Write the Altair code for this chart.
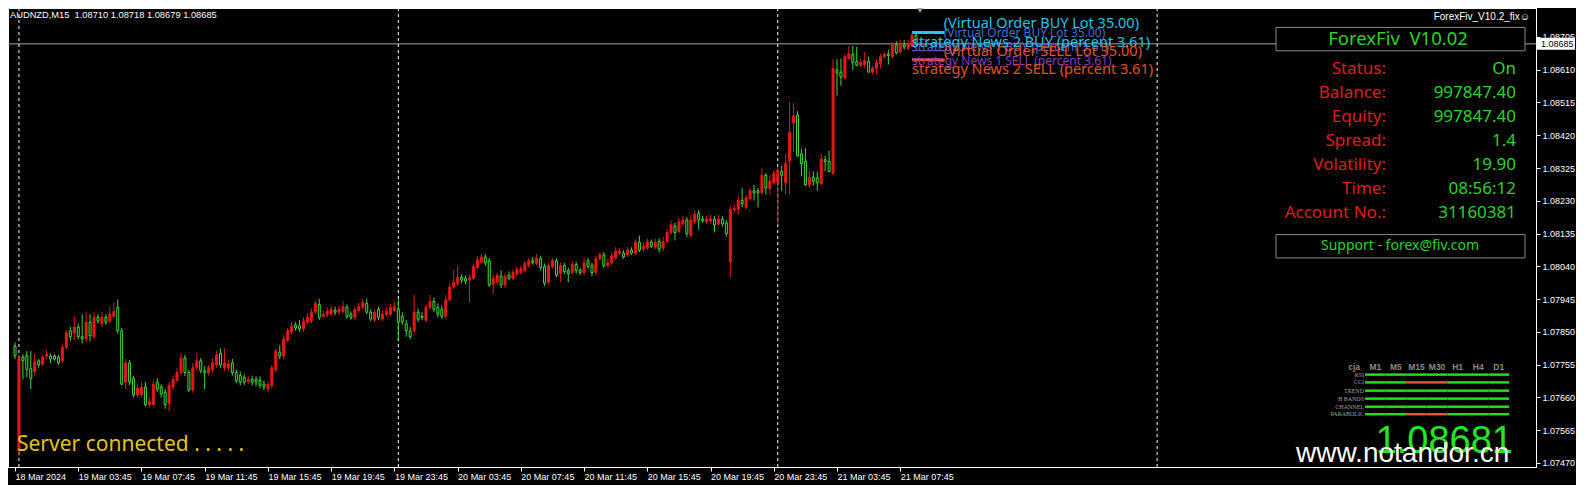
import altair as alt
import pandas as pd

# ---------------- data ----------------
opens = [1.07809,1.07506,1.07777,1.07781,1.07743,1.07735,1.07766,1.07757,1.07780,1.07780,
 1.07780,1.07777,1.07766,1.07805,1.07853,1.07847,1.07864,1.07836,1.07830,1.07878,
 1.07836,1.07892,1.07873,1.07892,1.07881,1.07895,1.07921,1.07853,1.07704,1.07760,
 1.07715,1.07667,1.07667,1.07690,1.07639,1.07639,1.07704,1.07690,1.07675,1.07642,
 1.07690,1.07709,1.07732,1.07774,1.07732,1.07681,1.07746,1.07766,1.07737,1.07732,
 1.07740,1.07754,1.07788,1.07746,1.07746,1.07760,1.07732,1.07723,1.07718,1.07706,
 1.07712,1.07712,1.07709,1.07698,1.07684,1.07695,1.07740,1.07791,1.07780,1.07825,
 1.07850,1.07870,1.07867,1.07859,1.07878,1.07881,1.07907,1.07929,1.07895,1.07901,
 1.07901,1.07912,1.07907,1.07909,1.07921,1.07901,1.07892,1.07912,1.07921,1.07932,
 1.07907,1.07884,1.07915,1.07887,1.07901,1.07901,1.07912,1.07915,1.07895,1.07873,
 1.07853,1.07853,1.07907,1.07895,1.07884,1.07921,1.07938,1.07921,1.07915,1.07895,
 1.07943,1.07980,1.07991,1.08008,1.08005,1.08002,1.08005,1.08036,1.08053,1.08067,
 1.08056,1.07988,1.07994,1.08011,1.07986,1.08014,1.08005,1.08017,1.08022,1.08028,
 1.08042,1.08056,1.08048,1.08062,1.08039,1.07994,1.08039,1.08056,1.08019,1.08042,
 1.08028,1.08022,1.08045,1.08028,1.08022,1.08056,1.08042,1.08022,1.08062,1.08073,
 1.08042,1.08050,1.08064,1.08078,1.08078,1.08073,1.08087,1.08078,1.08110,1.08090,
 1.08093,1.08110,1.08095,1.08112,1.08093,1.08112,1.08138,1.08157,1.08141,1.08163,
 1.08174,1.08129,1.08169,1.08194,1.08177,1.08169,1.08172,1.08177,1.08163,1.08177,
 1.08166,1.08053,1.08203,1.08205,1.08231,1.08211,1.08236,1.08259,1.08259,1.08253,
 1.08304,1.08265,1.08282,1.08282,1.08315,1.08282,1.08346,1.08456,1.08479,1.08366,
 1.08344,1.08276,1.08298,1.08296,1.08279,1.08349,1.08344,1.08310,1.08609,1.08603,
 1.08586,1.08642,1.08654,1.08634,1.08623,1.08625,1.08634,1.08603,1.08614,1.08628,
 1.08648,1.08656,1.08648,1.08682,1.08662,1.08682,1.08671,1.08679,1.08710]
highs = [1.07819,1.07783,1.07785,1.07794,1.07794,1.07788,1.07771,1.07783,1.07797,1.07788,
 1.07785,1.07783,1.07813,1.07856,1.07864,1.07895,1.07873,1.07901,1.07907,1.07901,
 1.07907,1.07901,1.07907,1.07901,1.07923,1.07935,1.07943,1.07861,1.07771,1.07768,
 1.07723,1.07698,1.07704,1.07704,1.07661,1.07709,1.07715,1.07698,1.07684,1.07704,
 1.07723,1.07746,1.07788,1.07783,1.07740,1.07760,1.07788,1.07774,1.07751,1.07754,
 1.07774,1.07794,1.07802,1.07802,1.07768,1.07771,1.07740,1.07735,1.07726,1.07721,
 1.07723,1.07721,1.07721,1.07709,1.07706,1.07754,1.07802,1.07811,1.07839,1.07861,
 1.07878,1.07878,1.07884,1.07892,1.07904,1.07918,1.07940,1.07946,1.07912,1.07921,
 1.07926,1.07923,1.07926,1.07940,1.07929,1.07909,1.07923,1.07935,1.07946,1.07946,
 1.07915,1.07915,1.07923,1.07912,1.07921,1.07932,1.07938,1.07943,1.07907,1.07884,
 1.07864,1.07957,1.07918,1.07907,1.07929,1.07957,1.07949,1.07932,1.07926,1.07957,
 1.07991,1.08028,1.08042,1.08017,1.08014,1.08017,1.08048,1.08070,1.08076,1.08076,
 1.08064,1.08017,1.08022,1.08028,1.08019,1.08025,1.08031,1.08039,1.08042,1.08056,
 1.08064,1.08067,1.08076,1.08070,1.08048,1.08050,1.08064,1.08064,1.08050,1.08050,
 1.08036,1.08056,1.08053,1.08036,1.08064,1.08064,1.08050,1.08070,1.08081,1.08081,
 1.08062,1.08081,1.08095,1.08093,1.08087,1.08095,1.08095,1.08118,1.08129,1.08110,
 1.08121,1.08118,1.08121,1.08121,1.08126,1.08149,1.08172,1.08166,1.08180,1.08186,
 1.08183,1.08189,1.08203,1.08203,1.08186,1.08186,1.08189,1.08186,1.08189,1.08186,
 1.08174,1.08214,1.08219,1.08245,1.08267,1.08248,1.08267,1.08276,1.08267,1.08324,
 1.08310,1.08304,1.08318,1.08329,1.08332,1.08366,1.08516,1.08513,1.08490,1.08380,
 1.08383,1.08318,1.08315,1.08315,1.08366,1.08360,1.08375,1.08640,1.08640,1.08642,
 1.08654,1.08679,1.08679,1.08676,1.08642,1.08662,1.08648,1.08620,1.08642,1.08656,
 1.08662,1.08668,1.08690,1.08693,1.08696,1.08696,1.08696,1.08718,1.08718]
lows = [1.07771,1.07492,1.07712,1.07718,1.07684,1.07723,1.07746,1.07751,1.07771,1.07760,
 1.07766,1.07754,1.07760,1.07799,1.07825,1.07825,1.07828,1.07816,1.07822,1.07822,
 1.07828,1.07873,1.07864,1.07870,1.07873,1.07890,1.07845,1.07695,1.07684,1.07695,
 1.07659,1.07659,1.07661,1.07633,1.07630,1.07633,1.07675,1.07659,1.07627,1.07619,
 1.07681,1.07704,1.07723,1.07721,1.07675,1.07673,1.07737,1.07729,1.07684,1.07723,
 1.07732,1.07746,1.07746,1.07737,1.07737,1.07723,1.07701,1.07695,1.07695,1.07698,
 1.07695,1.07692,1.07687,1.07681,1.07675,1.07687,1.07732,1.07771,1.07771,1.07819,
 1.07842,1.07853,1.07850,1.07850,1.07873,1.07875,1.07901,1.07884,1.07890,1.07892,
 1.07895,1.07898,1.07898,1.07904,1.07887,1.07884,1.07884,1.07907,1.07915,1.07901,
 1.07881,1.07878,1.07884,1.07881,1.07895,1.07895,1.07907,1.07825,1.07870,1.07836,
 1.07828,1.07845,1.07878,1.07884,1.07878,1.07915,1.07907,1.07892,1.07887,1.07887,
 1.07938,1.07974,1.07983,1.07991,1.07988,1.07935,1.08000,1.08031,1.08048,1.08042,
 1.07980,1.07960,1.07986,1.07977,1.07977,1.08000,1.08000,1.08011,1.08017,1.08022,
 1.08036,1.08045,1.08042,1.08028,1.07983,1.07988,1.08033,1.08008,1.07994,1.08017,
 1.07994,1.08017,1.08019,1.08014,1.08014,1.08033,1.08011,1.08014,1.08056,1.08036,
 1.08036,1.08042,1.08059,1.08073,1.08062,1.08067,1.08073,1.08073,1.08081,1.08081,
 1.08087,1.08093,1.08090,1.08081,1.08084,1.08107,1.08132,1.08115,1.08135,1.08157,
 1.08126,1.08124,1.08163,1.08146,1.08166,1.08163,1.08166,1.08138,1.08157,1.08155,
 1.08126,1.08008,1.08197,1.08189,1.08211,1.08205,1.08231,1.08231,1.08211,1.08248,
 1.08248,1.08248,1.08276,1.08160,1.08259,1.08248,1.08248,1.08372,1.08358,1.08301,
 1.08273,1.08267,1.08273,1.08259,1.08276,1.08315,1.08315,1.08304,1.08535,1.08563,
 1.08583,1.08640,1.08609,1.08620,1.08617,1.08614,1.08603,1.08597,1.08597,1.08614,
 1.08642,1.08625,1.08642,1.08654,1.08656,1.08668,1.08668,1.08676,1.08679]
closes = [1.07781,1.07774,1.07766,1.07741,1.07715,1.07763,1.07754,1.07777,1.07785,1.07771,
 1.07771,1.07760,1.07805,1.07847,1.07836,1.07864,1.07836,1.07830,1.07878,1.07839,
 1.07892,1.07881,1.07892,1.07878,1.07901,1.07909,1.07853,1.07698,1.07760,1.07704,
 1.07667,1.07687,1.07690,1.07639,1.07647,1.07698,1.07684,1.07670,1.07639,1.07695,
 1.07712,1.07732,1.07774,1.07732,1.07681,1.07746,1.07766,1.07737,1.07732,1.07746,
 1.07760,1.07783,1.07754,1.07760,1.07757,1.07732,1.07709,1.07704,1.07704,1.07712,
 1.07704,1.07704,1.07695,1.07690,1.07698,1.07746,1.07794,1.07780,1.07830,1.07853,
 1.07867,1.07861,1.07859,1.07881,1.07892,1.07907,1.07932,1.07892,1.07901,1.07909,
 1.07915,1.07907,1.07915,1.07923,1.07895,1.07892,1.07915,1.07923,1.07935,1.07907,
 1.07887,1.07907,1.07892,1.07901,1.07909,1.07921,1.07923,1.07878,1.07878,1.07853,
 1.07836,1.07907,1.07887,1.07892,1.07921,1.07938,1.07915,1.07901,1.07895,1.07943,
 1.07980,1.07994,1.08008,1.08000,1.07997,1.08008,1.08039,1.08059,1.08067,1.08050,
 1.07986,1.08005,1.08014,1.07986,1.08011,1.08005,1.08022,1.08031,1.08033,1.08048,
 1.08056,1.08050,1.08064,1.08036,1.07991,1.08042,1.08056,1.08014,1.08042,1.08025,
 1.08019,1.08045,1.08028,1.08022,1.08050,1.08039,1.08022,1.08062,1.08073,1.08042,
 1.08050,1.08070,1.08084,1.08084,1.08067,1.08087,1.08078,1.08110,1.08087,1.08098,
 1.08112,1.08098,1.08110,1.08090,1.08112,1.08138,1.08160,1.08138,1.08169,1.08174,
 1.08135,1.08174,1.08191,1.08174,1.08172,1.08177,1.08177,1.08160,1.08177,1.08163,
 1.08135,1.08205,1.08208,1.08231,1.08222,1.08239,1.08259,1.08253,1.08253,1.08304,
 1.08267,1.08287,1.08310,1.08318,1.08304,1.08338,1.08428,1.08476,1.08360,1.08338,
 1.08276,1.08298,1.08287,1.08282,1.08352,1.08344,1.08315,1.08614,1.08600,1.08589,
 1.08648,1.08656,1.08631,1.08623,1.08631,1.08637,1.08603,1.08614,1.08631,1.08648,
 1.08654,1.08651,1.08682,1.08659,1.08685,1.08676,1.08685,1.08710,1.08685]

x_tick_bars = [0, 16, 32, 48, 64, 80, 96, 112, 128, 144, 160, 176, 192, 208, 224]
x_tick_labels = ['18 Mar 2024', '19 Mar 03:45', '19 Mar 07:45', '19 Mar 11:45', '19 Mar 15:45',
                 '19 Mar 19:45', '19 Mar 23:45', '20 Mar 03:45', '20 Mar 07:45', '20 Mar 11:45',
                 '20 Mar 15:45', '20 Mar 19:45', '20 Mar 23:45', '21 Mar 03:45', '21 Mar 07:45']
y_ticks = [1.07470, 1.07565, 1.07660, 1.07755, 1.07850, 1.07945, 1.08040, 1.08135,
           1.08230, 1.08325, 1.08420, 1.08515, 1.08610, 1.08705]
separator_bars = [1, 97, 193, 289]
shift_marker_bar = [229]
current_price = 1.08685
header_text = 'AUDNZD,M15\u00a0\u00a01.08710 1.08718 1.08679 1.08685'
ea_name = 'ForexFiv_V10.2_fix\u263a'
panel_title = 'ForexFiv\u00a0\u00a0V10.02'
panel_labels = ['Status:', 'Balance:', 'Equity:', 'Spread:', 'Volatility:', 'Time:', 'Account No.:']
panel_values = ['On', '997847.40', '997847.40', '1.4', '19.90', '08:56:12', '31160381']
support_text = 'Support - forex@fiv.com'
big_price = '1.08681'
site_text = 'www.notandor.cn'
status_text = 'Server connected . . . . .'
ind_rows = ['RSI', 'CCI', 'TREND', 'B BANDS', 'CHANNEL', 'PARABOLIC']
ind_tfs = ['M1', 'M5', 'M15', 'M30', 'H1', 'H4', 'D1']
ind_status = [[1, 1, 1, 1, 1, 1, 1],
              [1, 1, 0, 0, 1, 1, 1],
              [1, 1, 1, 1, 1, 1, 1],
              [1, 1, 1, 1, 1, 1, 1],
              [1, 1, 1, 1, 1, 1, 1],
              [1, 1, 0, 0, 1, 1, 1]]
strategy_texts = ['(Virtual Order BUY Lot 35.00)', '(Virtual Order BUY Lot 35.00)',
                  'strategy News 1 BUY (percent 3.61)', 'strategy News 2 BUY (percent 3.61)',
                  'strategy News 1 SELL (percent 3.61)', '(Virtual Order SELL Lot 35.00)',
                  'strategy News 2 SELL (percent 3.61)']
strategy_bars = [235, 235, 227, 227, 227, 235, 227]
strategy_prices = [1.08742, 1.08717, 1.08676, 1.08688, 1.08635, 1.08662, 1.08608]
strategy_kind = ['buy_big', 'buy_small', 'buy1_small', 'buy_big', 'sell1_small', 'sell_big', 'sell_big']
level_prices = [1.08718, 1.08665, 1.08639]
level_kind = ['buy_big', 'buy1_small', 'sell_big']
level_bars = [227, 235.25]

# ---------------- styling ----------------
W, H = 1528, 459
YTOP, YBOT = 1.08789, 1.07458
PXB = 907.0 / 228.0          # pixels per bar
B0 = -2.0 / PXB              # domain start so that bar 0 sits 2px inside the frame
RED = '#e81818'
GREEN = '#3cdc3c'
TXT_RED = '#e01c1c'
TXT_GREEN = '#2ad42a'
FONT = 'Noto Sans'
KIND_COL = {'buy_big': '#22c6e6', 'buy_small': '#3a72d8', 'buy1_small': '#6a5ad8',
            'sell1_small': '#8a3cc8', 'sell_big': '#e8501c'}

def bar_of(px):
    return px / PXB + B0

def price_of(py):
    return YTOP - py / H * (YTOP - YBOT)

def ly(ref_y):
    return (ref_y - 5) * H / 472.0

x_scale = alt.Scale(domain=[B0, B0 + W / PXB], nice=False, zero=False)
y_scale = alt.Scale(domain=[YBOT, YTOP], nice=False, zero=False)

label_arr = '[' + ','.join("'%s'" % s for s in x_tick_labels) + ']'
xaxis = alt.Axis(values=x_tick_bars, labelExpr=label_arr + '[round(datum.value/16)]',
                 title=None, orient='bottom', labelAlign='left', labelBaseline='top',
                 labelColor='white', labelFontSize=9, labelFont='Liberation Sans',
                 tickColor='white', tickSize=4, domainColor='white', labelPadding=1,
                 labelOffset=0, labelFlush=False, labelOverlap=False, grid=False)
yaxis = alt.Axis(values=y_ticks, format='.5f', orient='right', title=None,
                 labelColor='white', labelFontSize=9, labelFont='Liberation Sans',
                 tickColor='white', tickSize=4, domainColor='white', labelPadding=2,
                 labelOverlap=False, labelFlush=False, grid=False)

X = lambda f: alt.X(f, scale=x_scale, axis=xaxis)
Y = lambda f: alt.Y(f, scale=y_scale, axis=yaxis)

df = pd.DataFrame({'i': list(range(len(opens))), 'open': opens, 'high': highs,
                   'low': lows, 'close': closes})
df['col'] = [RED if c >= o else GREEN for o, c in zip(opens, closes)]
df['fil'] = [RED if c >= o else '#000000' for o, c in zip(opens, closes)]

one = pd.DataFrame({'a': [0]})

seps = alt.Chart(pd.DataFrame({'i': separator_bars})).mark_rule(
    color='white', strokeWidth=1, strokeDash=[3, 3]).encode(x=X('i:Q'))
price_line = alt.Chart(one).mark_rule(color='#a8a8a8', strokeWidth=1).encode(
    y=Y('p:Q')).transform_calculate(p=str(current_price))

wicks = alt.Chart(df).mark_rule(strokeWidth=1).encode(
    x=X('i:Q'), y=Y('low:Q'), y2='high:Q',
    color=alt.Color('col:N', scale=None, legend=None))
bodies = alt.Chart(df).mark_bar(size=2, strokeWidth=1).encode(
    x=X('i:Q'), y=Y('open:Q'), y2='close:Q',
    stroke=alt.Stroke('col:N', scale=None, legend=None),
    fill=alt.Fill('fil:N', scale=None, legend=None))

lv = pd.DataFrame({'p': level_prices, 'c': [KIND_COL[k] for k in level_kind],
                   'x0': [level_bars[0]] * 3, 'x1': [level_bars[1]] * 3,
                   'w': [3, 1, 3]})
levels = alt.Chart(lv).mark_rule().encode(
    x=X('x0:Q'), x2='x1:Q', y=Y('p:Q'),
    color=alt.Color('c:N', scale=None, legend=None),
    strokeWidth=alt.StrokeWidth('w:Q', scale=None, legend=None))
st = pd.DataFrame({'t': strategy_texts, 'i': strategy_bars, 'p': strategy_prices,
                   'c': [KIND_COL[k] for k in strategy_kind]})
st['fs'] = [12 if k.endswith('small') else 14.5 for k in strategy_kind]
strat = alt.Chart(st).mark_text(align='left', baseline='middle', font=FONT).encode(
    x=X('i:Q'), y=Y('p:Q'), text='t:N',
    color=alt.Color('c:N', scale=None, legend=None),
    size=alt.Size('fs:Q', scale=None, legend=None))

shift = alt.Chart(pd.DataFrame({'i': shift_marker_bar})).mark_point(
    shape='triangle-down', filled=True, color='#9a9a9a', size=45, opacity=1).encode(
    x=X('i:Q'), y=alt.value(2))

tag = alt.Chart(one).mark_rule(color='white', strokeWidth=12, strokeCap='butt').encode(
    x=alt.value(W + 1), x2=alt.value(W + 39), y=Y('p:Q')).transform_calculate(p=str(current_price))
tag_txt = alt.Chart(one).mark_text(align='left', baseline='middle', color='black', fontSize=9,
                                   font='Liberation Sans').encode(
    x=alt.value(W + 5), y=Y('p:Q'), text=alt.value('%.5f' % current_price)).transform_calculate(
    p=str(current_price))

def label(text, px, py, size, color, align='left', baseline='middle', font=FONT, weight='normal'):
    return alt.Chart(one).mark_text(align=align, baseline=baseline, fontSize=size, color=color,
                                    font=font, fontWeight=weight).encode(
        x=alt.value(px), y=alt.value(py), text=alt.value(text))

header = label(header_text, 2, ly(12.7), 9.3, 'white', font='Liberation Sans')
ea = label(ea_name, 1522, ly(14), 10, 'white', align='right', font='Liberation Sans')
server = label(status_text, 9, ly(461), 21, '#e6c21e', baseline='alphabetic')

def box(x0, x1, y0, y1):
    return alt.Chart(one).mark_rect(fill='black', stroke='#8a8a8a', strokeWidth=1).encode(
        x=alt.value(x0), x2=alt.value(x1), y=alt.value(y0), y2=alt.value(y1))

box1 = box(1268, 1517, ly(25), ly(49))
title = label(panel_title, 1390, ly(37), 18.5, TXT_GREEN, align='center')
box2 = box(1268, 1517, ly(238), ly(262))
support = label(support_text, 1392, ly(250), 14, TXT_GREEN, align='center')

pdf = pd.DataFrame({'label': panel_labels, 'value': panel_values,
                    'p': [price_of(ly(67.7 + 24.75 * k)) for k in range(len(panel_labels))]})
plabels = alt.Chart(pdf).mark_text(align='right', baseline='middle', font=FONT, fontSize=17,
                                   color=TXT_RED).encode(x=alt.value(1378), y=Y('p:Q'), text='label:N')
pvalues = alt.Chart(pdf).mark_text(align='right', baseline='middle', font=FONT, fontSize=17,
                                   color=TXT_GREEN).encode(x=alt.value(1508), y=Y('p:Q'), text='value:N')

row_ref_y = [382, 390, 398.5, 406.7, 415, 422.7]
seg_rows = []
for r, name in enumerate(ind_rows):
    for t, tf in enumerate(ind_tfs):
        x0 = 1361 + 20.7 * t
        seg_rows.append({'row': name, 'tf': tf,
                         'c': '#22dd22' if ind_status[r][t] else '#e85040',
                         'x0': bar_of(x0), 'x1': bar_of(x0 + 20.7),
                         'p': price_of(ly(row_ref_y[r]))})
segs = alt.Chart(pd.DataFrame(seg_rows)).mark_rule(strokeWidth=2.5).encode(
    x=X('x0:Q'), x2='x1:Q', y=Y('p:Q'), color=alt.Color('c:N', scale=None, legend=None))
rl = pd.DataFrame({'t': ind_rows, 'p': [price_of(ly(v)) for v in row_ref_y]})
row_labels = alt.Chart(rl).mark_text(align='right', baseline='middle', font='Liberation Serif',
                                     fontSize=6, color='#a0a0a0').encode(
    x=alt.value(1356), y=Y('p:Q'), text='t:N')
hd = pd.DataFrame({'t': ['cja'] + ind_tfs,
                   'i': [bar_of(1350)] + [bar_of(1361 + 20.7 * t + 10.35) for t in range(7)]})
hdr = alt.Chart(hd).mark_text(align='center', baseline='middle', font='Liberation Sans',
                              fontSize=8.5, fontWeight='bold', color='#8a8a8a').encode(
    x=X('i:Q'), y=alt.value(ly(374)), text='t:N')

bignum = label(big_price, 1505, ly(463), 38, '#22e622', align='right', baseline='alphabetic',
               font='Liberation Sans')
site = label(site_text, 1288, ly(471.7), 28, 'white', baseline='alphabetic', font='Liberation Sans')

chart = alt.layer(
    price_line, seps, wicks, bodies, levels, strat, shift, header, ea, server,
    box1, title, plabels, pvalues, box2, support, segs, row_labels, hdr, bignum, site,
    tag, tag_txt
).properties(
    width=W, height=H, background='black',
    padding={'left': 0, 'top': 0, 'right': 40, 'bottom': 18},
    autosize=alt.AutoSizeParams(type='none')
).configure_view(stroke='white', strokeWidth=1, fill='black')

chart.save('out.html', embed_options={'renderer': 'svg', 'actions': False})
